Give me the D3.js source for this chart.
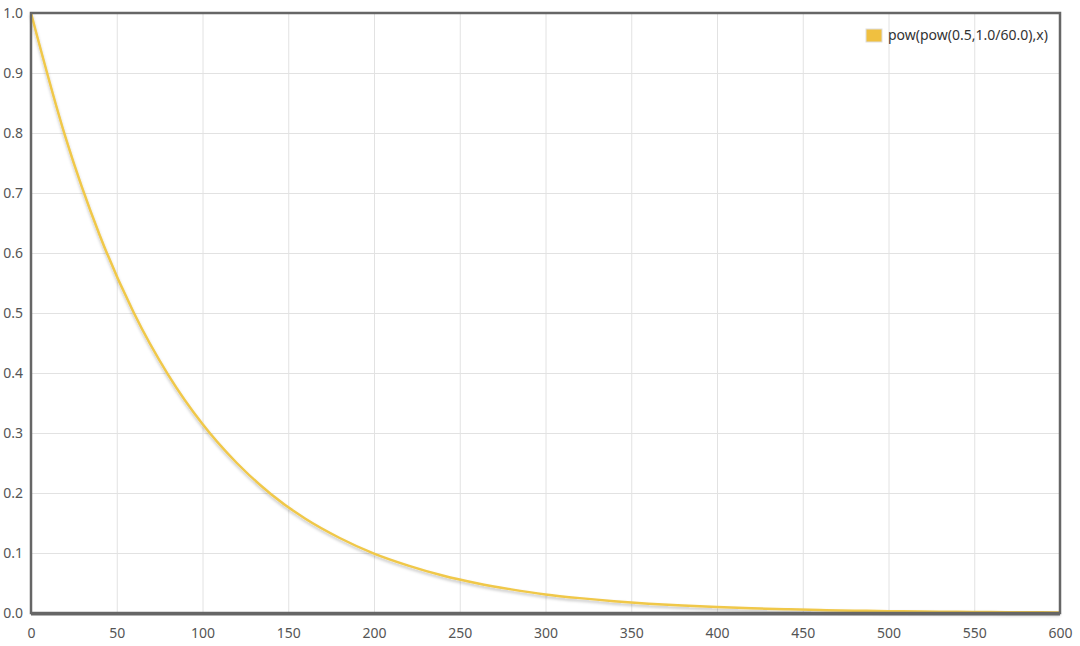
<!DOCTYPE html>
<html>
<head>
<meta charset="utf-8">
<script src="https://cdn.jsdelivr.net/npm/d3@7"></script>
<style>
  body { margin: 0; background: #fff; }
  svg text { font-family: "Noto Sans", "Liberation Sans", Arial, sans-serif; }
</style>
</head>
<body>
<svg id="chart" width="1080" height="646"></svg>
<script>
// values, every 20 units
var xs = [0, 20, 40, 60, 80, 100, 120, 140, 160, 180, 200, 220, 240, 260, 280, 300,
          320, 340, 360, 380, 400, 420, 440, 460, 480, 500, 520, 540, 560, 580, 600];
var ys = [1.0, 0.794, 0.63, 0.5, 0.397, 0.315, 0.25, 0.198, 0.157, 0.125, 0.099,
          0.079, 0.0625, 0.0496, 0.0394, 0.031, 0.0248, 0.0197, 0.0156, 0.0124, 0.0098,
          0.0078, 0.0062, 0.0049, 0.0039, 0.0031, 0.0025, 0.002, 0.0015, 0.0012, 0.001];
var xTicks = [0, 50, 100, 150, 200, 250, 300, 350, 400, 450, 500, 550, 600];
var yTicks = [0.0, 0.1, 0.2, 0.3, 0.4, 0.5, 0.6, 0.7, 0.8, 0.9, 1.0];
var seriesName = "pow(pow(0.5,1.0/60.0),x)";

var svg = d3.select("#chart");
var L = 31, R = 1060, T = 13, B = 613;

var x = d3.scaleLinear().domain([0, 600]).range([L, R]);
var y = d3.scaleLinear().domain([0, 1]).range([B, T]);

// shadow for the line
var defs = svg.append("defs");
var f = defs.append("filter").attr("id", "shadow")
        .attr("x", "-5%").attr("y", "-5%").attr("width", "110%").attr("height", "120%");
f.append("feDropShadow").attr("dx", 0).attr("dy", 2).attr("stdDeviation", 1.5)
        .attr("flood-color", "#000").attr("flood-opacity", 0.25);

// grid
svg.append("g")
        .attr("transform", "translate(0," + B + ")")
        .call(d3.axisBottom(x).tickValues(xTicks).tickSize(-(B - T)).tickFormat(""))
        .call(g => g.select(".domain").remove())
        .selectAll("line").attr("stroke", "#e2e2e2");
svg.append("g")
        .attr("transform", "translate(" + L + ",0)")
        .call(d3.axisLeft(y).tickValues(yTicks).tickSize(-(R - L)).tickFormat(""))
        .call(g => g.select(".domain").remove())
        .selectAll("line").attr("stroke", "#e2e2e2");

// tick labels
var xa = svg.append("g")
        .attr("transform", "translate(0," + B + ")")
        .call(d3.axisBottom(x).tickValues(xTicks).tickSize(0).tickPadding(15).tickFormat(d3.format("d")));
xa.select(".domain").remove();
xa.selectAll("text").attr("fill", "#555").attr("font-size", 14);

var ya = svg.append("g")
        .attr("transform", "translate(" + L + ",0)")
        .call(d3.axisLeft(y).tickValues(yTicks).tickSize(0).tickPadding(8).tickFormat(d3.format(".1f")));
ya.select(".domain").remove();
ya.selectAll("text").attr("fill", "#555").attr("font-size", 14);

// the curve
var pts = xs.map((v, i) => [v, ys[i]]);
var line = d3.line()
        .x(d => x(d[0]))
        .y(d => y(d[1]))
        .curve(d3.curveMonotoneX);
svg.append("path")
        .datum(pts)
        .attr("d", line)
        .attr("fill", "none")
        .attr("stroke", "#f0c84a")
        .attr("stroke-width", 2.5)
        .attr("filter", "url(#shadow)");

// frame
svg.append("rect")
        .attr("x", L).attr("y", T)
        .attr("width", R - L).attr("height", B - T)
        .attr("fill", "none")
        .attr("stroke", "#666")
        .attr("stroke-width", 2.5);
svg.append("line")
        .attr("x1", L).attr("x2", R)
        .attr("y1", B + 1).attr("y2", B + 1)
        .attr("stroke", "#666").attr("stroke-width", 3);

// legend
var lg = svg.append("g").attr("transform", "translate(866,29)");
lg.append("rect")
        .attr("width", 16).attr("height", 13)
        .attr("fill", "#f0c040")
        .attr("stroke", "#ddd").attr("stroke-width", 1);
lg.append("text")
        .attr("x", 22).attr("y", 11)
        .attr("font-size", 14)
        .attr("fill", "#333")
        .text(seriesName);
</script>
</body>
</html>
